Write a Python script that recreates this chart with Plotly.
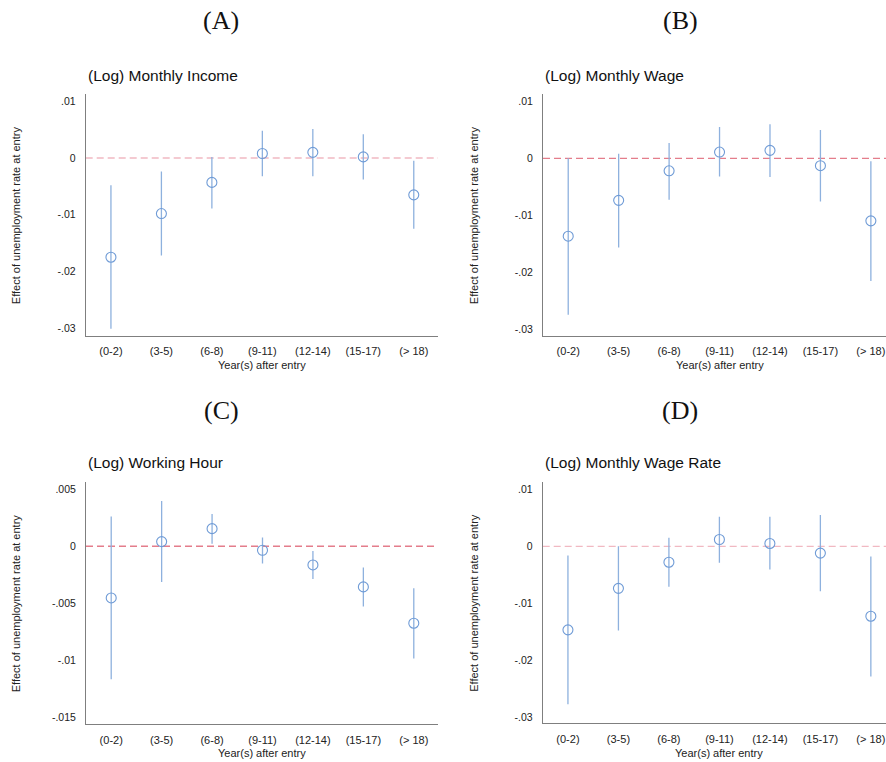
import plotly.graph_objects as go

W, H = 886, 762

categories = ["(0-2)", "(3-5)", "(6-8)", "(9-11)", "(12-14)", "(15-17)", "(> 18)"]

# Panel A: (Log) Monthly Income
income_est = [-0.0175, -0.0098, -0.0043, 0.0008, 0.0010, 0.0002, -0.0065]
income_lo = [-0.0301, -0.0172, -0.0089, -0.0032, -0.0032, -0.0038, -0.0125]
income_hi = [-0.0048, -0.0024, 0.0002, 0.0048, 0.0051, 0.0042, -0.0005]

# Panel B: (Log) Monthly Wage
wage_est = [-0.0137, -0.0074, -0.0022, 0.0011, 0.0014, -0.0013, -0.0110]
wage_lo = [-0.0275, -0.0157, -0.0073, -0.0032, -0.0033, -0.0076, -0.0216]
wage_hi = [0.0000, 0.0008, 0.0027, 0.0055, 0.0060, 0.0050, -0.0005]

# Panel C: (Log) Working Hour
hour_est = [-0.00454, 0.00041, 0.00155, -0.00035, -0.00164, -0.00357, -0.00676]
hour_lo = [-0.01168, -0.00313, 0.00023, -0.00152, -0.00287, -0.00530, -0.00987]
hour_hi = [0.00261, 0.00398, 0.00284, 0.00076, -0.00041, -0.00187, -0.00369]

# Panel D: (Log) Monthly Wage Rate
rate_est = [-0.0147, -0.0074, -0.0028, 0.0012, 0.0005, -0.0012, -0.0123]
rate_lo = [-0.0278, -0.0148, -0.0071, -0.0029, -0.0041, -0.0079, -0.0229]
rate_hi = [-0.0016, 0.0000, 0.0015, 0.0052, 0.0052, 0.0055, -0.0018]

ytick_vals_wide = [0.01, 0, -0.01, -0.02, -0.03]
ytick_text_wide = [".01", "0", "-.01", "-.02", "-.03"]
ytick_vals_hour = [0.005, 0, -0.005, -0.01, -0.015]
ytick_text_hour = [".005", "0", "-.005", "-.01", "-.015"]

panel_letters = ["(A)", "(B)", "(C)", "(D)"]
panel_titles = ["(Log) Monthly Income", "(Log) Monthly Wage", "(Log) Working Hour", "(Log) Monthly Wage Rate"]
x_title = "Year(s) after entry"
y_title = "Effect of unemployment rate at entry"

SANS = "Liberation Sans, Arial, sans-serif"
SERIF = "Liberation Serif, Times New Roman, serif"
MARKER_COL = "#6f9bd6"
CI_COL = "#8eb1de"
AXIS_COL = "#7f7f7f"


def px(xp):
    return xp / W


def py(yp):
    return 1 - yp / H


# pixel geometry in page coords: (left, right, top, bottom)
panels = [
    dict(est=income_est, lo=income_lo, hi=income_hi, box=(85.7, 438, 94.3, 336),
         xr=[-0.5, 6.48], yr=[-0.0314, 0.01124], tv=ytick_vals_wide, tt=ytick_text_wide,
         zcol="#f1b9c2", letter=(221, 21), title_y=75, ytx=16, xt_y=365),
    dict(est=wage_est, lo=wage_lo, hi=wage_hi, box=(543, 886, 94.3, 336),
         xr=[-0.5, 6.3], yr=[-0.03126, 0.01126], tv=ytick_vals_wide, tt=ytick_text_wide,
         zcol="#e47d8b", letter=(680, 21), title_y=75, ytx=474, xt_y=365),
    dict(est=hour_est, lo=hour_lo, hi=hour_hi, box=(86, 438, 482.3, 724.3),
         xr=[-0.5, 6.48], yr=[-0.01564, 0.00562], tv=ytick_vals_hour, tt=ytick_text_hour,
         zcol="#e47d8b", letter=(221, 410), title_y=462.7, ytx=16, xt_y=753),
    dict(est=rate_est, lo=rate_lo, hi=rate_hi, box=(542.7, 886, 482.3, 723.3),
         xr=[-0.5, 6.3], yr=[-0.03114, 0.01126], tv=ytick_vals_wide, tt=ytick_text_wide,
         zcol="#f1b9c2", letter=(680, 410), title_y=462.7, ytx=474, xt_y=752.5),
]

fig = go.Figure()
annotations = []
shapes = []
layout_axes = {}

for i, p in enumerate(panels):
    n = "" if i == 0 else str(i + 1)
    xa, ya = "x" + n, "y" + n
    l, r, t, b = p["box"]
    up = [h - e for h, e in zip(p["hi"], p["est"])]
    dn = [e - lo for e, lo in zip(p["est"], p["lo"])]
    fig.add_trace(go.Scatter(
        x=categories, y=p["est"], mode="markers", xaxis=xa, yaxis=ya,
        marker=dict(symbol="circle-open", size=10, color=MARKER_COL, line=dict(width=1.1, color=MARKER_COL)),
        error_y=dict(type="data", symmetric=False, array=up, arrayminus=dn,
                     width=0, thickness=1.3, color=CI_COL),
        showlegend=False, cliponaxis=False,
    ))
    layout_axes["xaxis" + n] = dict(
        domain=[max(px(l), 0), min(px(r), 1.0)], anchor=ya, type="category", range=p["xr"],
        showline=True, linecolor=AXIS_COL, linewidth=1, showgrid=False, zeroline=False,
        ticks="", ticklabelstandoff=5,
        tickfont=dict(family=SANS, size=11, color="#222"),
    )
    layout_axes["yaxis" + n] = dict(
        domain=[py(b), py(t)], anchor=xa, range=p["yr"],
        showline=True, linecolor=AXIS_COL, linewidth=1, showgrid=False, zeroline=False,
        tickvals=p["tv"], ticktext=p["tt"], ticks="", ticklabelstandoff=7,
        tickfont=dict(family=SANS, size=10.5, color="#222"),
    )
    shapes.append(dict(type="line", xref=xa + " domain", yref=ya, x0=0, x1=1, y0=0, y1=0,
                       line=dict(color=p["zcol"], width=1.3, dash="7px,4px"), layer="below"))
    lx, ly = p["letter"]
    annotations.append(dict(text=panel_letters[i], x=px(lx), y=py(ly), xref="paper", yref="paper",
                            showarrow=False, xanchor="center", yanchor="middle",
                            font=dict(family=SERIF, size=26, color="#111")))
    annotations.append(dict(text=panel_titles[i], x=px(l), y=py(p["title_y"]), xref="paper", yref="paper",
                            showarrow=False, xanchor="left", yanchor="middle",
                            font=dict(family=SANS, size=15.5, color="#111")))
    annotations.append(dict(text=y_title, x=px(p["ytx"]), y=py((t + b) / 2), xref="paper", yref="paper",
                            showarrow=False, xanchor="center", yanchor="middle", textangle=-90,
                            font=dict(family=SANS, size=11, color="#222")))
    xc = (l + (r if i % 2 == 0 else 896)) / 2
    annotations.append(dict(text=x_title, x=px(xc), y=py(p["xt_y"]), xref="paper", yref="paper",
                            showarrow=False, xanchor="center", yanchor="middle",
                            font=dict(family=SANS, size=11, color="#222")))

fig.update_layout(
    width=W, height=H, margin=dict(l=0, r=0, t=0, b=0),
    paper_bgcolor="white", plot_bgcolor="white", hovermode=False,
    annotations=annotations, shapes=shapes, **layout_axes,
)

fig.write_html(
    "out.html",
    config={"displayModeBar": False, "staticPlot": True},
    post_script="document.body.style.margin='0';document.body.style.overflow='hidden';",
)
